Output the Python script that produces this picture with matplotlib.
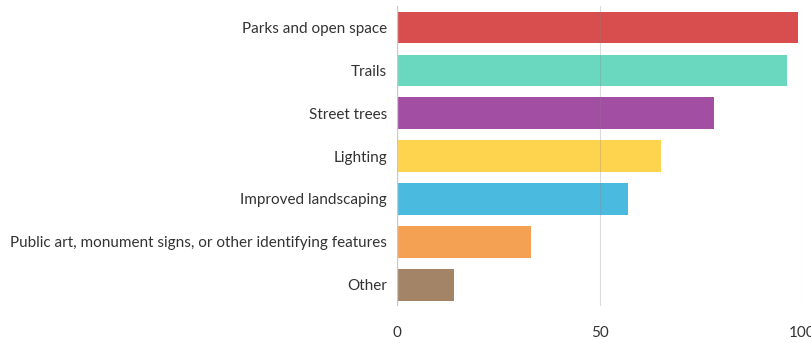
import numpy as np
from matplotlib import pyplot as plt

# Survey responses (top to bottom)
categories = ['Parks and open space', 'Trails', 'Street trees', 'Lighting',
              'Improved landscaping',
              'Public art, monument signs, or other identifying features',
              'Other']
values = [99.0, 96.2, 78.1, 65.1, 57.1, 33.0, 14.1]
colors = ['#d84d4d', '#6ad8bf', '#a24ea2', '#fed44f', '#4bbadf', '#f5a153', '#a48466']
xticks = [0, 50, 100]

plt.rcParams['font.family'] = ['Lato', 'DejaVu Sans']

fig = plt.figure(figsize=(8.12, 3.43), dpi=100)
ax = fig.add_axes([0.4886, 0.107, 0.4995, 0.876])

y = np.arange(len(categories))
ax.barh(y, values, height=0.73, color=colors, zorder=1)
ax.set_ylim(len(categories) - 0.5, -0.5)
ax.set_xlim(0, 100)

# Light vertical gridlines, faintly visible through the bars
for x in xticks[1:]:
    ax.axvline(x, color='#888888', alpha=0.3, linewidth=0.8, zorder=2)
ax.axvline(0, color='#c8c8c8', linewidth=1.0, zorder=3)

ax.set_yticks(y)
ax.set_yticklabels(categories, fontsize=11, color='#333333')
ax.set_xticks(xticks)
ax.set_xticklabels([str(t) for t in xticks], fontsize=11, color='#333333')
ax.tick_params(axis='both', length=0)
ax.tick_params(axis='y', pad=7)
ax.tick_params(axis='x', pad=14)
for s in ax.spines.values():
    s.set_visible(False)

fig.savefig('out.png', dpi=100)
